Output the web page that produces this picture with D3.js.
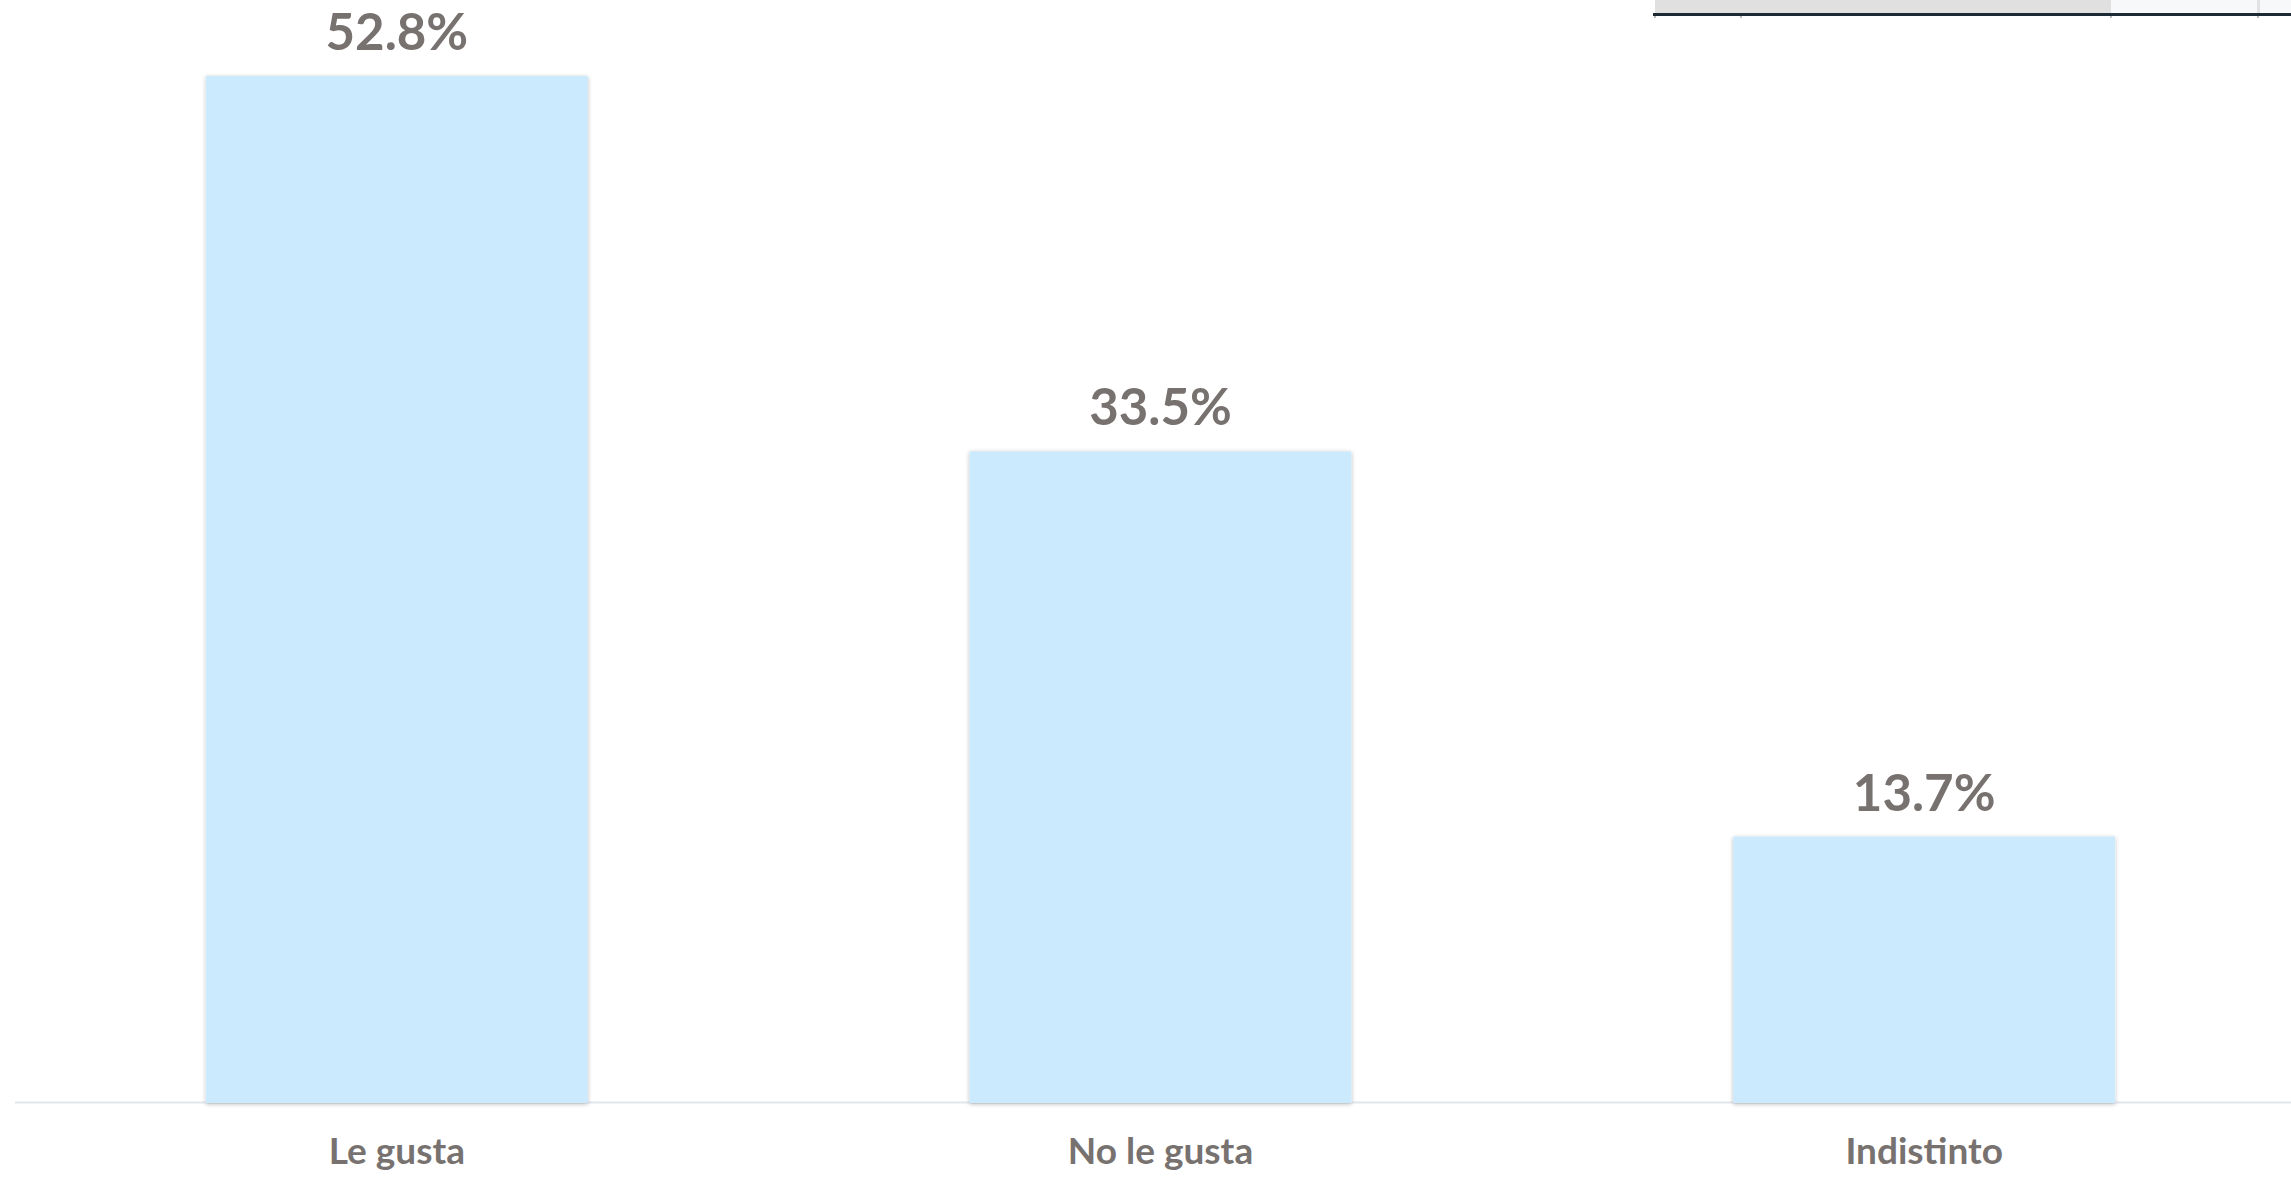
<!DOCTYPE html>
<html>
<head>
<meta charset="utf-8">
<script src="https://cdn.jsdelivr.net/npm/d3@7"></script>
<style>
  html, body { margin: 0; padding: 0; background: #ffffff; overflow: hidden; }
  svg { display: block; }
</style>
</head>
<body>
<svg id="chart" width="2291" height="1178"></svg>
<script>
// ---- data ----
const categories = ["Le gusta", "No le gusta", "Indistinto"];
const values = [52.8, 33.5, 13.7];
const valueLabels = ["52.8%", "33.5%", "13.7%"];

// ---- layout ----
const W = 2291, H = 1178;
const baseY = 1103;
const svg = d3.select("#chart");

const defs = svg.append("defs");
const f = defs.append("filter").attr("id", "shadow")
  .attr("x", "-5%").attr("y", "-5%").attr("width", "110%").attr("height", "110%");
f.append("feDropShadow").attr("dx", 0).attr("dy", 1).attr("stdDeviation", 2)
  .attr("flood-color", "#000").attr("flood-opacity", 0.28);

const x = d3.scaleBand().domain(categories).range([15, 2306])
  .paddingInner(0.5).paddingOuter(0.25);
const y = d3.scaleLinear().domain([0, 60]).range([baseY, baseY - 60 * 19.45]);

// top-right UI fragment
const ui = svg.append("g");
ui.append("rect").attr("x", 1655).attr("y", 0).attr("width", 456).attr("height", 13).attr("fill", "#e0e0e0");
ui.append("rect").attr("x", 2111).attr("y", 0).attr("width", 146).attr("height", 13).attr("fill", "#f7f8fa");
ui.append("rect").attr("x", 2257).attr("y", 0).attr("width", 3).attr("height", 13).attr("fill", "#e2e2e4");
ui.append("rect").attr("x", 2260).attr("y", 0).attr("width", 31).attr("height", 13).attr("fill", "#f7f8fa");
ui.append("rect").attr("x", 1653).attr("y", 13).attr("width", 638).attr("height", 3).attr("fill", "#1c2a36");
[1654, 1740, 2110, 2257].forEach(px => {
  ui.append("rect").attr("x", px).attr("y", 16).attr("width", 2).attr("height", 2).attr("fill", "#b8bcc2");
});

// baseline
svg.append("line")
  .attr("x1", 15).attr("x2", W).attr("y1", baseY - 0.5).attr("y2", baseY - 0.5)
  .attr("stroke", "#e1e6ee").attr("stroke-width", 2);

const data = categories.map((c, i) => ({ c, v: values[i], label: valueLabels[i] }));

svg.append("g").selectAll("rect").data(data).join("rect")
  .attr("x", d => x(d.c))
  .attr("y", d => y(d.v))
  .attr("width", x.bandwidth())
  .attr("height", d => y(0) - y(d.v))
  .attr("fill", "#cceafd")
  .attr("filter", "url(#shadow)");

svg.append("g").selectAll("text").data(data).join("text")
  .attr("x", d => x(d.c) + x.bandwidth() / 2)
  .attr("y", d => y(d.v) - 26)
  .attr("text-anchor", "middle")
  .attr("font-family", "Lato, 'Open Sans', sans-serif")
  .attr("font-weight", 700)
  .attr("font-size", 51)
  .attr("fill", "#77726f")
  .text(d => d.label);

svg.append("g").selectAll("text").data(data).join("text")
  .attr("x", d => x(d.c) + x.bandwidth() / 2)
  .attr("y", 1164)
  .attr("text-anchor", "middle")
  .attr("font-family", "Lato, 'Open Sans', sans-serif")
  .attr("font-weight", 700)
  .attr("font-size", 37)
  .attr("fill", "#77726f")
  .text(d => d.c);
</script>
</body>
</html>
